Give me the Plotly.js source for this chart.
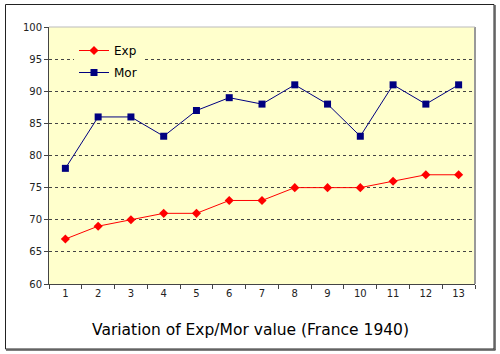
<!DOCTYPE html>
<html><head><meta charset="utf-8">
<script src="https://cdn.plot.ly/plotly-3.0.1.min.js"></script>
<style>html,body{margin:0;padding:0;background:#fff;}#chart{width:500px;height:354px;}</style>
</head><body><div id="chart"></div>
<script>
const categories = ['1','2','3','4','5','6','7','8','9','10','11','12','13'];
const expValues = [67, 69, 70, 71, 71, 73, 73, 75, 75, 75, 76, 77, 77];
const morValues = [78, 86, 86, 83, 87, 89, 88, 91, 88, 83, 91, 88, 91];
const yTicks = [60, 65, 70, 75, 80, 85, 90, 95, 100];
const chartTitle = 'Variation of Exp/Mor value (France 1940)';

const L = 49, R = 25, T = 27, B = 70, W = 500, H = 354;
const pw = W - L - R, ph = H - T - B;
const px = v => (v - L) / pw;
const py = v => (H - B - v) / ph;

const traces = [
  {x: categories, y: expValues, name: 'Exp', type: 'scatter', mode: 'lines+markers', legendgroup: 'a',
   line: {color: '#ff0000', width: 1}, marker: {symbol: 'diamond', size: 7, color: '#ff0000'}},
  {x: categories, y: morValues, name: 'Mor', type: 'scatter', mode: 'lines+markers', legendgroup: 'b',
   line: {color: '#000080', width: 1}, marker: {symbol: 'square', size: 7, color: '#000080'}}
];

const layout = {
  width: W, height: H,
  margin: {l: L, r: R, t: T, b: B},
  paper_bgcolor: '#ffffff',
  plot_bgcolor: '#ffffcc',
  font: {family: 'DejaVu Sans, Verdana, sans-serif', size: 10, color: '#222'},
  showlegend: true,
  legend: {x: px(74), y: py(36), xanchor: 'left', yanchor: 'top', bgcolor: '#ffffcc',
           font: {size: 12, color: '#000'}, traceorder: 'grouped', tracegroupgap: 3, itemwidth: 30},
  xaxis: {type: 'category', range: [-0.5, 12.5], showgrid: false, zeroline: false,
          showline: true, linecolor: '#444', linewidth: 1, mirror: false,
          ticks: 'outside', tickson: 'boundaries', ticklen: 4, tickcolor: '#444',
          tickfont: {size: 10, color: '#222'}},
  yaxis: {range: [60, 100], tickvals: yTicks, showgrid: true, gridcolor: '#444',
          griddash: '3px,3px', gridwidth: 1, zeroline: false, showline: true, linecolor: '#444',
          linewidth: 1, ticks: 'outside', ticklen: 4, tickcolor: '#444',
          tickfont: {size: 10, color: '#222'}},
  shapes: [
    {type: 'line', xref: 'paper', yref: 'paper', x0: 1, x1: 1, y0: 0, y1: 1, line: {color: '#999', width: 2}},
    {type: 'line', xref: 'paper', yref: 'paper', x0: 0, x1: 1, y0: 1, y1: 1, line: {color: '#bbb', width: 1}},
    {type: 'rect', xref: 'paper', yref: 'paper', x0: px(5.5), x1: px(494), y0: py(4.5), y1: py(349),
     line: {color: '#222', width: 1}},
    {type: 'line', xref: 'paper', yref: 'paper', x0: px(495), x1: px(495), y0: py(5), y1: py(350),
     line: {color: '#555', width: 1.5}},
    {type: 'line', xref: 'paper', yref: 'paper', x0: px(6), x1: px(495.5), y0: py(350), y1: py(350),
     line: {color: '#555', width: 1.5}}
  ],
  annotations: [
    {text: chartTitle, xref: 'paper', yref: 'paper', x: px(250), y: py(330),
     xanchor: 'center', yanchor: 'middle', showarrow: false, font: {size: 15.5, color: '#000'}}
  ]
};

Plotly.newPlot('chart', traces, layout, {displayModeBar: false, staticPlot: true});
</script></body></html>
